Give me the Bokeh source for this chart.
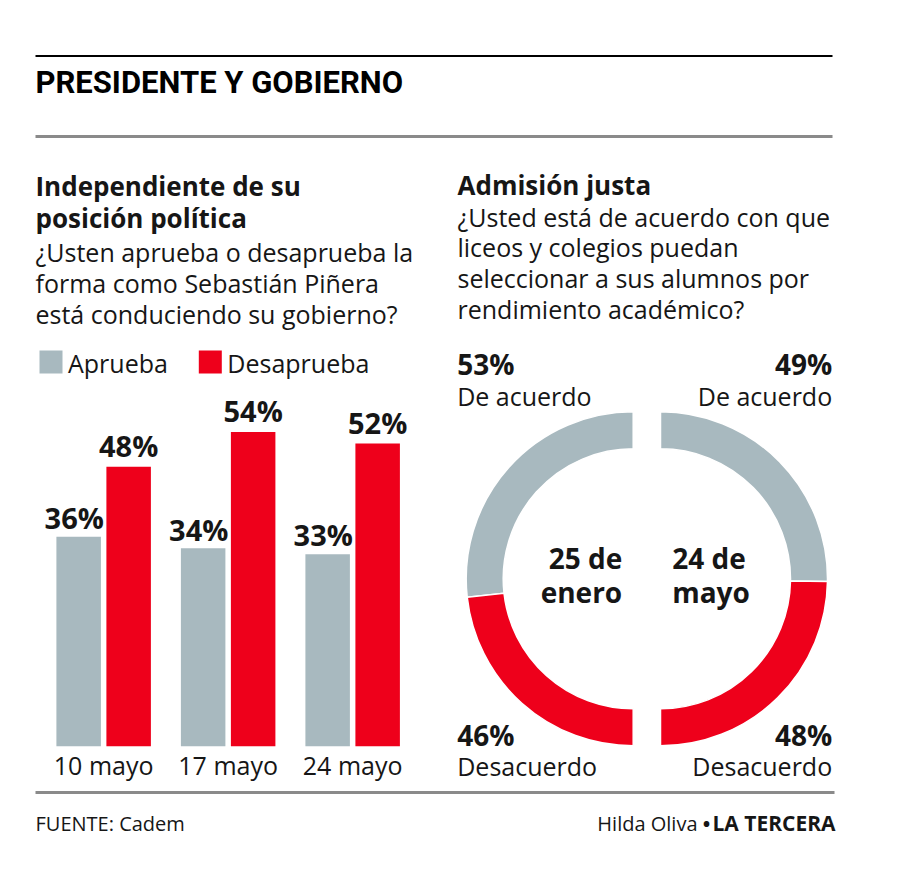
from bokeh.plotting import figure
from bokeh.models import Range1d, ColumnDataSource
from bokeh.core.properties import value
from bokeh.embed import file_html
from bokeh.resources import INLINE

# ---------------- data ----------------
dates = ["10 mayo", "17 mayo", "24 mayo"]
aprueba = [36, 34, 33]
desaprueba = [48, 54, 52]
series_names = ["Aprueba", "Desaprueba"]

donut_dates = [["25 de", "enero"], ["24 de", "mayo"]]
de_acuerdo = [53, 49]
desacuerdo = [46, 48]
donut_labels = ["De acuerdo", "Desacuerdo"]

# ---------------- style ----------------
GRAY = "#A8B9BF"
RED = "#EE001B"
INK = "#161616"
FONT = "Open Sans"
HEAD_FONT = "Roboto"
BASE_FIX = 0.35  # em shift so that text sits on the wanted baseline

W, H = 884, 867
p = figure(width=W, height=H, x_range=Range1d(0, W), y_range=Range1d(-H, 0),
           output_backend="svg", toolbar_location=None, min_border=0,
           x_axis_location=None, y_axis_location=None, outline_line_color=None)
p.xgrid.grid_line_color = None
p.ygrid.grid_line_color = None
p.background_fill_color = "white"


def txt(x, y, s, size, bold=False, align="left", color=INK, font=FONT):
    p.text(x=[x], y=[-y], text=[s], text_font=value(font), text_font_size=f"{size}px",
           text_font_style="bold" if bold else "normal", text_align=align,
           text_baseline="alphabetic", text_color=color, y_offset=-BASE_FIX * size)


def hline(x0, x1, y, color, width):
    p.line(x=[x0, x1], y=[-y, -y], line_color=color, line_width=width)


# ---------------- header ----------------
hline(35, 832, 55.5, "black", 2)
txt(35, 93, "PRESIDENTE Y GOBIERNO", 31, bold=True, font=HEAD_FONT, color="black")
hline(35, 832, 136, "#8a8a8a", 3)

# ---------------- left titles ----------------
txt(35, 195, "Independiente de su", 26, bold=True)
txt(35, 227, "posición política", 26, bold=True)
for i, line in enumerate(["¿Usten aprueba o desaprueba la",
                          "forma como Sebastián Piñera",
                          "está conduciendo su gobierno?"]):
    txt(35, 260 + i * 31, line, 25)

# ---------------- right titles ----------------
txt(457, 194, "Admisión justa", 26, bold=True)
for i, line in enumerate(["¿Usted está de acuerdo con que",
                          "liceos y colegios puedan",
                          "seleccionar a sus alumnos por",
                          "rendimiento académico?"]):
    txt(457, 225 + i * 30.7, line, 25)

# ---------------- legend ----------------
for (lx, name, col) in [(39, series_names[0], GRAY), (198.3, series_names[1], RED)]:
    p.quad(left=[lx], right=[lx + 23], top=[-350], bottom=[-373], fill_color=col, line_color=None)
    txt(lx + 28.5, 371, name, 25)

# ---------------- bar chart (own scales) ----------------
GROUP0_X, GROUP_STEP = 103.15, 124.5
BASE_Y, PX_PER_PCT = 745.7, 5.82
p.extra_x_ranges = {"bars": Range1d((0 - GROUP0_X) / GROUP_STEP, (W - GROUP0_X) / GROUP_STEP)}
p.extra_y_ranges = {"bars": Range1d(-(H - BASE_Y) / PX_PER_PCT, BASE_Y / PX_PER_PCT)}

idx = list(range(len(dates)))
bw = 44.5 / GROUP_STEP
off = 25.0 / GROUP_STEP
src = ColumnDataSource(dict(
    xg=[i - off for i in idx], xr=[i + off for i in idx], idx=idx,
    xg_lab=[i - off + bw / 2 for i in idx],
    aprueba=aprueba, desaprueba=desaprueba, dates=dates,
    lab_a=[f"{v}%" for v in aprueba], lab_d=[f"{v}%" for v in desaprueba],
))
p.vbar(x="xg", top="aprueba", bottom=0, width=bw, source=src, fill_color=GRAY, line_color=None,
       x_range_name="bars", y_range_name="bars")
p.vbar(x="xr", top="desaprueba", bottom=0, width=bw, source=src, fill_color=RED, line_color=None,
       x_range_name="bars", y_range_name="bars")
LAB = 29
p.text(x="xg_lab", y="aprueba", text="lab_a", source=src, x_range_name="bars", y_range_name="bars",
       text_font=value(FONT), text_font_size=f"{LAB}px", text_font_style="bold", text_align="right",
       text_baseline="alphabetic", x_offset=3, y_offset=-9 - BASE_FIX * LAB, text_color=INK)
p.text(x="xr", y="desaprueba", text="lab_d", source=src, x_range_name="bars", y_range_name="bars",
       text_font=value(FONT), text_font_size=f"{LAB}px", text_font_style="bold", text_align="center",
       text_baseline="alphabetic", y_offset=-11 - BASE_FIX * LAB, text_color=INK)
CAT = 25
p.text(x="idx", y=0, text="dates", source=src, x_range_name="bars", y_range_name="bars",
       text_font=value(FONT), text_font_size=f"{CAT}px", text_align="center",
       text_baseline="alphabetic", y_offset=28 - BASE_FIX * CAT, text_color=INK)

# ---------------- donut ----------------
CY = -578.3
R_OUT, R_IN = 167, 130
centers = [632.7, 660.0]
for k in range(2):
    tot = de_acuerdo[k] + desacuerdo[k]
    span = 180.0 * de_acuerdo[k] / tot
    if k == 0:   # left half, counter-clockwise from top
        g0, g1 = 90.0, 90.0 + span
        r0, r1 = g1, 270.0
    else:        # right half, clockwise from top
        g0, g1 = 90.0 - span, 90.0
        r0, r1 = -90.0, g0
    p.annular_wedge(x=[centers[k]], y=[CY], inner_radius=R_IN, outer_radius=R_OUT,
                    start_angle=[g0], end_angle=[g1], start_angle_units="deg", end_angle_units="deg",
                    fill_color=GRAY, line_color="white", line_width=1.5)
    p.annular_wedge(x=[centers[k]], y=[CY], inner_radius=R_IN, outer_radius=R_OUT,
                    start_angle=[r0], end_angle=[r1], start_angle_units="deg", end_angle_units="deg",
                    fill_color=RED, line_color="white", line_width=1.5)

# donut centre labels
txt(621.7, 567.7, donut_dates[0][0], 28, bold=True, align="right")
txt(621.7, 601.7, donut_dates[0][1], 28, bold=True, align="right")
txt(671.7, 567.7, donut_dates[1][0], 28, bold=True, align="left")
txt(671.7, 601.7, donut_dates[1][1], 28, bold=True, align="left")

# donut value labels
txt(456.7, 373, f"{de_acuerdo[0]}%", 28, bold=True)
txt(456.7, 404, donut_labels[0], 25)
txt(831.7, 373, f"{de_acuerdo[1]}%", 28, bold=True, align="right")
txt(831.7, 404, donut_labels[0], 25, align="right")
txt(456.7, 744, f"{desacuerdo[0]}%", 28, bold=True)
txt(456.7, 774, donut_labels[1], 25)
txt(831.7, 744, f"{desacuerdo[1]}%", 28, bold=True, align="right")
txt(831.7, 774, donut_labels[1], 25, align="right")

# ---------------- footer ----------------
hline(35, 834, 792, "#8a8a8a", 3)
txt(35, 830, "FUENTE: Cadem", 20)
txt(835, 830, "LA TERCERA", 21, bold=True, align="right")
txt(706, 830, "•", 20, bold=True, align="center")
txt(697, 830, "Hilda Oliva", 20, align="right")

open("out.html", "w").write(file_html(p, INLINE))
